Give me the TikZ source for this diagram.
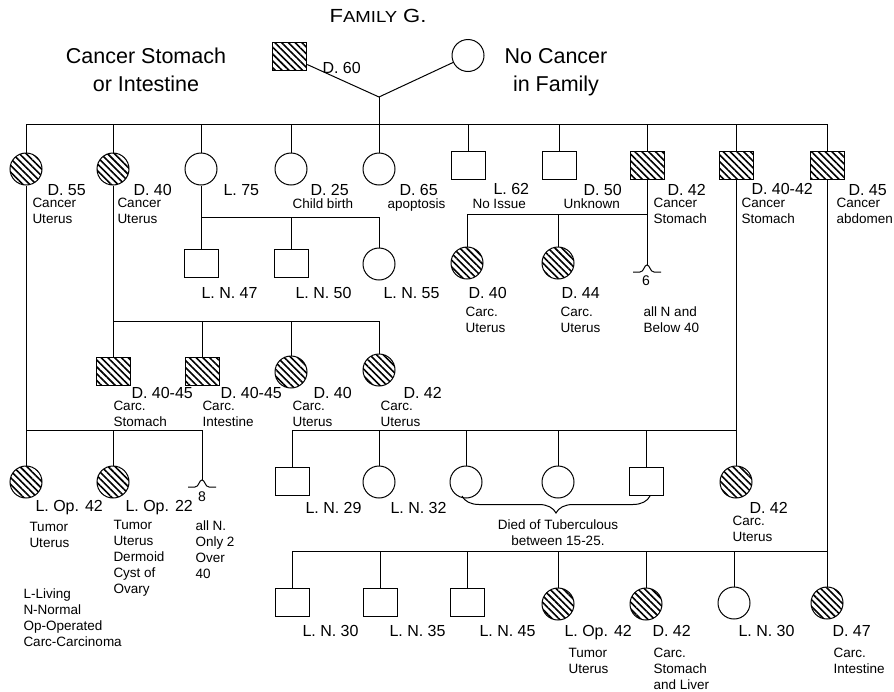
\documentclass[tikz,border=0pt]{standalone}
\usepackage{fontspec}
\setmainfont{Liberation Sans}
\usetikzlibrary{patterns.meta,decorations.pathreplacing}

\tikzset{
  male/.style={draw, rectangle, minimum width=34pt, minimum height=28pt, inner sep=0pt},
  female/.style={draw, circle, minimum size=32pt, inner sep=0pt},
  hit/.style={pattern={Lines[angle=-45,distance=4.8pt,line width=1.6pt]}},
  age/.style={anchor=north west, inner sep=0pt, font=\fontsize{16}{19}\selectfont},
  note/.style={anchor=north west, inner sep=0pt, align=left, font=\fontsize{13.5}{16}\selectfont},
  head/.style={anchor=north, inner sep=0pt, align=center, font=\fontsize{21.5}{28}\selectfont},
}

\begin{document}
\begin{tikzpicture}[x=1pt, y=-1pt, line width=1pt]
\useasboundingbox (0,0) rectangle (894,691);

% small break symbol for a group of children
\def\bump#1{\draw ([shift={(-14,7)}]#1) -- ([shift={(-7,7)}]#1)
  .. controls ([shift={(-3,7)}]#1) and ([shift={(-3,0)}]#1) .. (#1)
  .. controls ([shift={(3,0)}]#1) and ([shift={(3,7)}]#1) .. ([shift={(7,7)}]#1)
  -- ([shift={(14,7)}]#1);}

% title and headings
\node[anchor=north, inner sep=0pt] (title) at (378,9)
  {\scalebox{1.16}[1]{\fontsize{19}{20}\selectfont F\fontsize{16}{20}\selectfont AMILY\hspace{5pt}\fontsize{19}{20}\selectfont G.}};
\node[head] (hleft) at (146,47) {Cancer Stomach\\or Intestine};
\node[head] (hright) at (556,48) {No Cancer\\in Family};

% parents
\node[male, hit] (dad) at (289.5,56.5) {};
\node[female] (mum) at (468,55.5) {};
\node[age] (dadt) at (322,62) {D. 60};
\coordinate (j0) at (379,97);
\coordinate (sibII) at (379,124);
\draw (dad) -- (j0) -- (mum);
\draw (j0) -- (sibII);

% generation II
\node[female, hit] (a1) at (26,169) {};
\node[female, hit] (a2) at (113,169) {};
\node[female] (a3) at (201,169) {};
\node[female] (a4) at (291,169) {};
\node[female] (a5) at (379,169) {};
\node[male] (a6) at (468,165) {};
\node[male] (a7) at (559,165) {};
\node[male, hit] (a8) at (647,165) {};
\node[male, hit] (a9) at (736,165) {};
\node[male, hit] (a10) at (827,165) {};
\draw (a1 |- sibII) -- (a10 |- sibII);
\foreach \i in {1,...,10} {
  \draw (a\i) -- (a\i |- sibII);
}

\node[age] (a1t) at (47,184) {D. 55};
\node[age] (a2t) at (133,184) {D. 40};
\node[age] (a3t) at (223,184) {L. 75};
\node[age] (a4t) at (310,184) {D. 25};
\node[age] (a5t) at (399,184) {D. 65};
\node[age] (a6t) at (493,183) {L. 62};
\node[age] (a7t) at (583,184) {D. 50};
\node[age] (a8t) at (667,184) {D. 42};
\node[age] (a9t) at (751,183) {D. 40-42};
\node[age] (a10t) at (848,184) {D. 45};
\node[note] (a1n) at (32,198) {Cancer\\Uterus};
\node[note] (a2n) at (117,198) {Cancer\\Uterus};
\node[note] (a4n) at (292,198) {Child birth};
\node[note] (a5n) at (387,198) {apoptosis};
\node[note] (a6n) at (472,199) {No Issue};
\node[note] (a7n) at (563,198) {Unknown};
\node[note] (a8n) at (653,198) {Cancer\\Stomach};
\node[note] (a9n) at (741,198) {Cancer\\Stomach};
\node[note] (a10n) at (836,198) {Cancer\\abdomen};

% children of L. 75
\node[male] (b1) at (201,263) {};
\node[male] (b2) at (291,263) {};
\node[female] (b3) at (379,264) {};
\coordinate (sibB) at (201,217);
\draw (a3) -- (sibB) -- (b3 |- sibB);
\foreach \i in {1,2,3} {
  \draw (b\i) -- (b\i |- sibB);
}
\node[age] (b1t) at (201,287) {L. N. 47};
\node[age] (b2t) at (295,287) {L. N. 50};
\node[age] (b3t) at (383,287) {L. N. 55};

% children of D. 42 Cancer Stomach
\node[female, hit] (c1) at (467,263) {};
\node[female, hit] (c2) at (558,263) {};
\coordinate (six) at (647,265);
\coordinate (sibC) at (647,214);
\draw (a8) -- (six);
\bump{six}
\draw (c1 |- sibC) -- (sibC);
\foreach \i in {1,2} {
  \draw (c\i) -- (c\i |- sibC);
}
\node[anchor=north, inner sep=0pt, font=\fontsize{14}{16}\selectfont] (sixn) at (646,275) {6};
\node[age] (c1t) at (468,287) {D. 40};
\node[age] (c2t) at (561,287) {D. 44};
\node[note] (c1n) at (465,307) {Carc.\\Uterus};
\node[note] (c2n) at (560,307) {Carc.\\Uterus};
\node[note] (sixt) at (643,306) {all N and\\Below 40};

% children of D. 40 Cancer Uterus
\node[male, hit] (d1) at (113,371) {};
\node[male, hit] (d2) at (202,371) {};
\node[female, hit] (d3) at (291,372) {};
\node[female, hit] (d4) at (379,370) {};
\coordinate (sibD) at (113,321);
\draw (a2) -- (d1);
\draw (sibD) -- (d4 |- sibD);
\foreach \i in {2,3,4} {
  \draw (d\i) -- (d\i |- sibD);
}
\node[age] (d1t) at (131,387) {D. 40-45};
\node[age] (d2t) at (220,387) {D. 40-45};
\node[age] (d3t) at (313,387) {D. 40};
\node[age] (d4t) at (403,387) {D. 42};
\node[note] (d1n) at (113,401) {Carc.\\Stomach};
\node[note] (d2n) at (202,401) {Carc.\\Intestine};
\node[note] (d3n) at (292,401) {Carc.\\Uterus};
\node[note] (d4n) at (380,401) {Carc.\\Uterus};

% children of D. 55 Cancer Uterus
\node[female, hit] (e1) at (26,482) {};
\node[female, hit] (e2) at (113,482) {};
\coordinate (eight) at (202,480);
\coordinate (sibE) at (26,430);
\draw (a1) -- (e1);
\draw (sibE) -- (eight |- sibE);
\draw (e2) -- (e2 |- sibE);
\draw (eight) -- (eight |- sibE);
\bump{eight}
\node[anchor=north, inner sep=0pt, font=\fontsize{14}{16}\selectfont] (eightn) at (202,491) {8};
\node[age] (e1t) at (35,500) {L. Op. 42};
\node[age] (e2t) at (125,500) {L. Op. 22};
\node[note] (e1n) at (29,522) {Tumor\\Uterus};
\node[note] (e2n) at (113,520) {Tumor\\Uterus\\Dermoid\\Cyst of\\Ovary};
\node[note] (eightt) at (195,520) {all N.\\Only 2\\Over\\40};

% key
\node[note] (key) at (23,588) {L-Living\\N-Normal\\Op-Operated\\Carc-Carcinoma};

% children of D. 40-42 Cancer Stomach
\node[male] (f1) at (292,481) {};
\node[female] (f2) at (379,482) {};
\node[female] (f3) at (466,482) {};
\node[female] (f4) at (558,482) {};
\node[male] (f5) at (646,481) {};
\node[female, hit] (f6) at (736,482) {};
\coordinate (sibF) at (736,430);
\draw (a9) -- (f6);
\draw (f1 |- sibF) -- (sibF);
\foreach \i in {1,...,5} {
  \draw (f\i) -- (f\i |- sibF);
}
\coordinate (brL) at (462,496);
\coordinate (brR) at (650,496);
\draw[decorate, decoration={brace, mirror, amplitude=17pt}] (brL) -- (brR);
\node[note, anchor=north, align=center] (tb) at (558,519) {Died of Tuberculous\\between 15-25.};
\node[age] (f1t) at (305,502) {L. N. 29};
\node[age] (f2t) at (390,502) {L. N. 32};
\node[age] (f6t) at (749,502) {D. 42};
\node[note] (f6n) at (732,516) {Carc.\\Uterus};

% children of D. 45 Cancer abdomen
\node[male] (g1) at (292,602) {};
\node[male] (g2) at (380,602) {};
\node[male] (g3) at (467,602) {};
\node[female, hit] (g4) at (558,604) {};
\node[female, hit] (g5) at (646,604) {};
\node[female] (g6) at (734,603) {};
\node[female, hit] (g7) at (827,603) {};
\coordinate (sibG) at (827,551);
\draw (a10) -- (g7);
\draw (g1 |- sibG) -- (sibG);
\foreach \i in {1,...,6} {
  \draw (g\i) -- (g\i |- sibG);
}
\node[age] (g1t) at (302,625) {L. N. 30};
\node[age] (g2t) at (389,625) {L. N. 35};
\node[age] (g3t) at (479,625) {L. N. 45};
\node[age] (g4t) at (564,625) {L. Op. 42};
\node[age] (g5t) at (652,625) {D. 42};
\node[age] (g6t) at (738,625) {L. N. 30};
\node[age] (g7t) at (832,625) {D. 47};
\node[note] (g4n) at (568,648) {Tumor\\Uterus};
\node[note] (g5n) at (653,648) {Carc.\\Stomach\\and Liver};
\node[note] (g7n) at (833,648) {Carc.\\Intestine};
\end{tikzpicture}
\end{document}
